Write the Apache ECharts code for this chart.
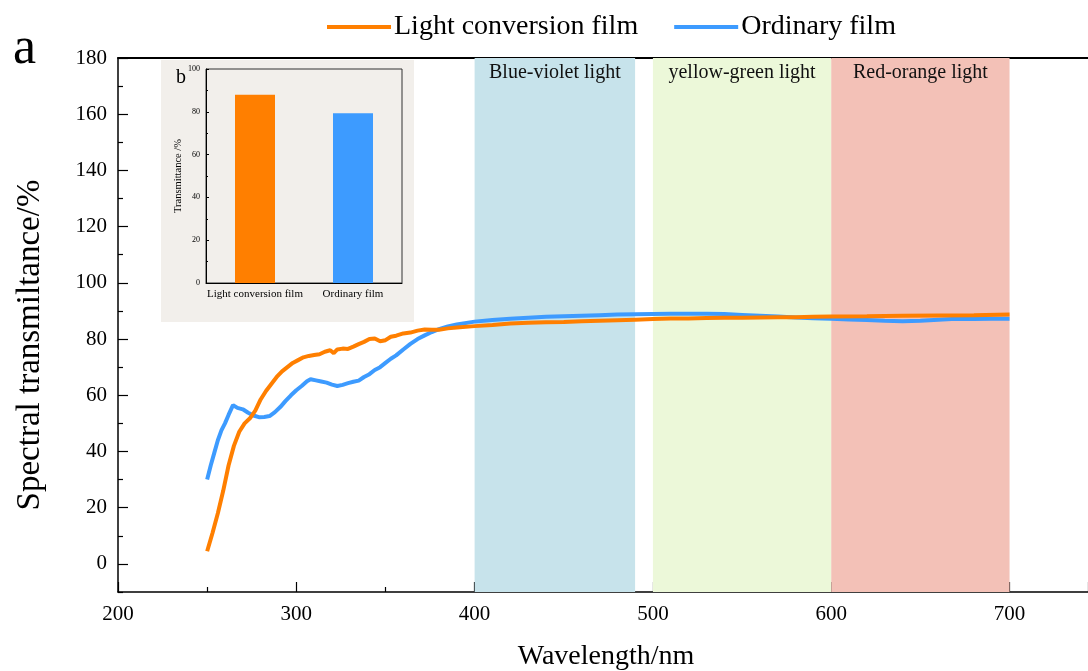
<!DOCTYPE html>
<html><head><meta charset="utf-8">
<script src="https://cdn.jsdelivr.net/npm/echarts@6/dist/echarts.min.js"></script>
<style>html,body{margin:0;padding:0;background:#fff}#c{width:1088px;height:671px}</style>
</head><body><div id="c"></div>
<script>
var seriesNames = ['Light conversion film', 'Ordinary film'];
var lightConversion = [
[250,4.5],[253,11],[256,18],[259,26],[262,35],[265,42],[268,47],[271,50],[274,51.8],[277,54.5],[280,58.5],[283,61.5],[286,64],[289,66.5],[292,68.5],[295,70],[298,71.5],[301,72.5],[304,73.5],[307,74],[310,74.3],[313,74.6],[316,75.5],[319,76],[321,75],[323,76.3],[326,76.6],[329,76.5],[332,77.3],[335,78.2],[338,79],[341,80],[344,80.2],[347,79.2],[350,79.6],[353,80.8],[356,81.2],[360,82],[364,82.3],[368,83],[372,83.4],[376,83.3],[380,83.3],[385,83.8],[390,84.1],[400,84.6],[410,85],[420,85.5],[430,85.8],[440,86],[450,86.1],[460,86.3],[470,86.5],[480,86.7],[490,86.9],[500,87.1],[510,87.3],[520,87.3],[530,87.5],[540,87.6],[550,87.6],[560,87.7],[570,87.8],[580,87.8],[590,87.9],[600,88],[620,88.1],[640,88.3],[660,88.4],[680,88.5],[700,88.7]
];
var ordinary = [
[250,30],[252,35],[254,39.5],[256,44],[258,47.5],[260,50],[262,53],[264.5,56.5],[267,55.5],[270,55],[273,53.8],[276,52.8],[279,52.2],[282,52.3],[285,52.6],[288,54],[291,55.8],[294,58],[297,60],[300,61.8],[303,63.3],[306,65],[308,65.7],[311,65.3],[314,64.9],[317,64.5],[320,63.8],[323,63.3],[326,63.7],[329,64.3],[332,64.8],[335,65.2],[338,66.5],[341,67.5],[344,69],[347,70],[350,71.5],[353,73],[356,74.2],[360,76.3],[364,78.3],[368,80],[372,81.3],[376,82.5],[380,83.5],[385,84.5],[390,85.2],[400,86.2],[410,86.8],[420,87.2],[430,87.6],[440,87.9],[450,88.1],[460,88.3],[470,88.5],[480,88.7],[490,88.8],[500,88.9],[510,89],[520,89],[530,89],[540,88.9],[550,88.6],[560,88.3],[570,88],[580,87.7],[590,87.4],[600,87.2],[610,87],[620,86.8],[630,86.5],[640,86.3],[650,86.5],[660,86.9],[670,87.2],[680,87.1],[690,87.2],[700,87.2]
];
var bandNames = ['Blue-violet light', 'yellow-green light', 'Red-orange light'];
var bandRanges = [[400,490],[500,600],[600,700]];
var bandColors = ['#c7e3eb', '#ecf8d9', '#f3c1b7'];
var yMajorTicks = [0,20,40,60,80,100,120,140,160,180];
var yMinorTicks = [-10,10,30,50,70,90,110,130,150,170];
var insetCategories = ['Light conversion film', 'Ordinary film'];
var insetValues = [88, 79.3];

var ORANGE = '#ff7f00', BLUE = '#3d9bff';
var FONT = 'Liberation Serif';
var chart = echarts.init(document.getElementById('c'));

var markData = bandRanges.map(function (r, i) {
  return [{ name: bandNames[i], xAxis: r[0], itemStyle: { color: bandColors[i] } }, { xAxis: r[1] }];
});

var option = {
  backgroundColor: '#fff',
  animation: false,
  textStyle: { fontFamily: FONT, color: '#000' },
  legend: {
    top: 8, left: 322, itemWidth: 64, itemHeight: 4, itemGap: 36,
    icon: 'rect',
    textStyle: { fontFamily: FONT, fontSize: 28, color: '#000', padding: [0, 0, 0, -2] },
    data: [{ name: seriesNames[0], itemStyle: { color: ORANGE } }, { name: seriesNames[1], itemStyle: { color: BLUE } }]
  },
  graphic: [
    { type: 'rect', shape: { x: 161, y: 60, width: 253, height: 262 }, style: { fill: '#f2efeb' }, z: -1 },
    { type: 'text', left: 13, top: 23, style: { text: 'a', font: '52px "Liberation Serif"', fill: '#000' } },
    { type: 'text', left: 176, top: 68, style: { text: 'b', font: '20px "Liberation Serif"', fill: '#000' } },
    { type: 'text', x: 606, y: 657, style: { text: 'Wavelength/nm', font: '28px "Liberation Serif"', fill: '#000', align: 'center', verticalAlign: 'middle' } },
    { type: 'text', x: 30, y: 345, rotation: Math.PI / 2, style: { text: 'Spectral transmiltance/%', font: '33px "Liberation Serif"', fill: '#000', align: 'center', verticalAlign: 'middle' } }
  ],
  grid: [
    { left: 118, top: 58, right: 0, bottom: 79 },
    { left: 206, top: 69, width: 196, height: 214, show: true, borderColor: '#333', borderWidth: 1, backgroundColor: 'transparent' }
  ],
  xAxis: [
    {
      type: 'value', gridIndex: 0, min: 200, max: 744, interval: 100,
      axisLine: { onZero: false, lineStyle: { color: '#000', width: 1.5 } },
      axisTick: { inside: true, length: 10, lineStyle: { color: '#000', width: 1.2 } },
      minorTick: { show: true, splitNumber: 2, length: 5, lineStyle: { color: '#000', width: 1.2 } },
      axisLabel: { fontFamily: FONT, fontSize: 21, color: '#000', margin: 12, showMaxLabel: false },
      splitLine: { show: false }
    },
    {
      type: 'value', gridIndex: 0, position: 'top', min: 200, max: 744,
      axisLine: { show: true, onZero: false, lineStyle: { color: '#000', width: 2 } },
      axisTick: { show: false }, axisLabel: { show: false }, splitLine: { show: false }
    },
    {
      type: 'category', gridIndex: 1, data: insetCategories,
      axisLine: { lineStyle: { color: '#000', width: 1 } },
      axisTick: { show: false },
      axisLabel: { fontFamily: FONT, fontSize: 11, color: '#000', margin: 6, interval: 0 }
    }
  ],
  yAxis: [
    {
      type: 'value', gridIndex: 0, min: -10, max: 180,
      axisLine: { onZero: false, lineStyle: { color: '#000', width: 1.5 } },
      axisTick: { inside: true, length: 10, customValues: yMajorTicks, lineStyle: { color: '#000', width: 1.2 } },
      axisLabel: { fontFamily: FONT, fontSize: 21, color: '#000', margin: 11, customValues: yMajorTicks },
      splitLine: { show: false }
    },
    {
      type: 'value', gridIndex: 0, min: -10, max: 180, position: 'left',
      axisLine: { show: false },
      axisTick: { show: true, inside: true, length: 5, customValues: yMinorTicks, lineStyle: { color: '#000', width: 1.2 } },
      axisLabel: { show: false, customValues: yMinorTicks },
      splitLine: { show: false }
    },
    {
      type: 'value', gridIndex: 1, min: 0, max: 100, interval: 20,
      name: 'Transmittance /%', nameLocation: 'middle', nameGap: 15,
      nameTextStyle: { fontFamily: FONT, fontSize: 10.5, color: '#000' },
      axisLine: { show: true, lineStyle: { color: '#000', width: 1 } },
      axisTick: { show: true, inside: true, length: 3, lineStyle: { color: '#000' } },
      minorTick: { show: true, splitNumber: 2, length: 2, lineStyle: { color: '#000' } },
      axisLabel: { fontFamily: FONT, fontSize: 8, color: '#000', margin: 6 },
      splitLine: { show: false }
    }
  ],
  series: [
    {
      name: seriesNames[0], type: 'line', xAxisIndex: 0, yAxisIndex: 0,
      data: lightConversion, showSymbol: false, smooth: false,
      lineStyle: { color: ORANGE, width: 4 }, itemStyle: { color: ORANGE }, z: 4,
      markArea: {
        silent: true,
        label: { show: true, position: 'insideTop', distance: 5, fontFamily: FONT, fontSize: 20, color: '#111' },
        data: markData
      }
    },
    {
      name: seriesNames[1], type: 'line', xAxisIndex: 0, yAxisIndex: 0,
      data: ordinary, showSymbol: false, smooth: false,
      lineStyle: { color: BLUE, width: 4 }, itemStyle: { color: BLUE }, z: 3
    },
    {
      name: 'inset', type: 'bar', xAxisIndex: 2, yAxisIndex: 2, barWidth: 40,
      data: insetValues.map(function (v, i) { return { value: v, itemStyle: { color: i === 0 ? ORANGE : BLUE } }; })
    }
  ]
};
chart.setOption(option);
</script></body></html>
